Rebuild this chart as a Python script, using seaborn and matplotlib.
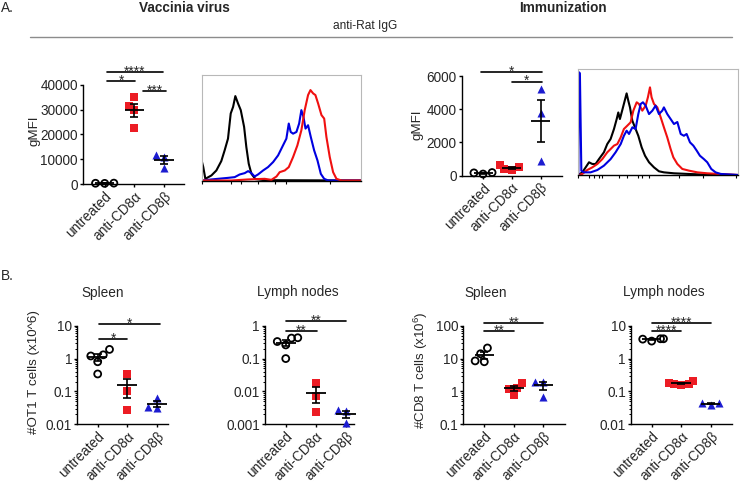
import numpy as np
import pandas as pd
import matplotlib
matplotlib.use("Agg")
import matplotlib.pyplot as plt
from matplotlib.lines import Line2D
from matplotlib.ticker import LogLocator, NullFormatter, FixedLocator
import seaborn as sns

sns.set_style("ticks")
plt.rcParams['font.family'] = ['Liberation Sans', 'DejaVu Sans']
plt.rcParams['mathtext.fontset'] = 'custom'
plt.rcParams['mathtext.rm'] = 'Liberation Sans'
plt.rcParams['mathtext.it'] = 'Liberation Sans:italic'

# ---------------- data ----------------
groups = ["untreated", "anti-CD8\u03b1", "anti-CD8\u03b2"]

# A. gMFI anti-Rat IgG
vv_untreated = [300, 250, 350]
vv_cd8a = [35200, 31700, 29800, 22800]
vv_cd8b = [11800, 11000, 6300]
im_untreated = [190, 100, 170]
im_cd8a = [500, 420, 620, 340]
im_cd8b = [5200, 3800, 900]

# B. cell numbers (x10^6)
ot1_spl_untreated = [1.9, 1.3, 1.2, 0.8, 0.34]
ot1_spl_cd8a = [0.33, 0.10, 0.027]
ot1_spl_cd8b = [0.062, 0.033, 0.032]
ot1_ln_untreated = [0.42, 0.43, 0.33, 0.26, 0.10]
ot1_ln_cd8a = [0.018, 0.0073, 0.0023]
ot1_ln_cd8b = [0.0027, 0.0025, 0.0011]
cd8_spl_untreated = [21, 14, 8, 8.5]
cd8_spl_cd8a = [1.85, 1.25, 1.2, 0.8]
cd8_spl_cd8b = [2.0, 1.9, 0.7]
cd8_ln_untreated = [4.0, 3.4, 4.0, 3.9]
cd8_ln_cd8a = [0.21, 0.18, 0.17, 0.16, 0.17]
cd8_ln_cd8b = [0.043, 0.040, 0.043]

# histograms (channel % of range, count % of axis height)
vv_black_x = [0, 0.8, 2.1, 5.9, 9, 12.1, 14.2, 16.3, 18, 19.5, 20.9, 22.6, 24.3, 26.4, 27.8, 29.3, 31, 33.5, 39.3, 100]
vv_black_y = [17.5, 12.7, 1.6, 4.8, 9.5, 18.4, 28.6, 39.7, 63.5, 69.8, 80, 73, 66.7, 50.8, 31.7, 15.9, 6.3, 1.3, 0.3, 0]
vv_blue_x = [0, 5.9, 10, 16.3, 20.5, 23.6, 26.8, 28.9, 31, 33, 35.1, 38.3, 41.4, 44.6, 47.7, 50.8, 52.9, 54.4, 55.6,
             57.1, 59.2, 60.9, 62.3, 63.6, 64.9, 66.5, 68.2, 70.3, 72.4, 74.5, 76.6, 79.1, 100]
vv_blue_y = [0, 1, 1.6, 2.5, 3.2, 5.7, 7, 8.9, 7, 3.8, 5.7, 9.5, 12.7, 17.5, 23.8, 33.3, 39.7, 54, 46,
             44.4, 46, 54, 66.7, 60.3, 49.2, 52.4, 41.3, 28.6, 19, 6.3, 1.6, 0, 0]
vv_red_x = [0, 18.4, 28.9, 39.3, 43.5, 46.7, 48.7, 51.9, 54.4, 57.1, 59.8, 62.3, 64.4, 66.5, 68, 69.7, 71.1, 72.8,
            74.9, 76.6, 78, 80.1, 82.2, 84.3, 87.4, 100]
vv_red_y = [0, 0, 1, 1.6, 0.6, 3.8, 7.9, 9.5, 12.7, 22.2, 33.3, 47.6, 66.7, 81, 85.7, 82.5, 81, 73,
            62, 58.7, 41.3, 22.2, 7.9, 1.6, 0, 0]

im_black_x = [0, 2.5, 4.6, 6.7, 8.75, 10.8, 12.9, 16, 18.1, 20.2, 22.3, 24, 25, 26, 27.5, 29, 30.2, 31.25, 32.3,
              33.75, 35.4, 37.5, 39.6, 41.7, 44.2, 47.3, 50.4, 53.5, 59.8, 70.2, 80.6, 100]
im_black_y = [0, 2.5, 7.2, 12, 10.4, 10.4, 15, 21.4, 29.2, 34, 43.4, 52.8, 59, 52.8, 61.3, 70, 77, 70, 63.8,
              51.3, 45, 37, 26.1, 18.2, 12, 7.2, 3.5, 2.5, 1.6, 0.9, 0.3, 0]
im_red_x = [0, 2.5, 5.6, 8.75, 11.9, 15, 18.1, 20.2, 22.3, 24.4, 26.5, 28.5, 30.6, 32.7, 34.4, 36.5, 37.9, 40,
            42.1, 43.5, 44.8, 45.8, 47.3, 49.4, 51.5, 53.5, 55.6, 57.7, 59.4, 61.9, 65, 69.2, 74.4, 80.6, 89, 100]
im_red_y = [0, 1, 4.7, 7.2, 10.4, 15, 21.4, 24.5, 27.7, 29.2, 35.5, 43.4, 46.5, 49.7, 60.7, 68.6, 67, 60.7,
            65.4, 73.3, 82.7, 73.3, 67, 63.8, 54.4, 45, 35.5, 24.5, 16.7, 10.4, 5.7, 4.1, 2.5, 1.6, 0.9, 0]
im_blue_x = [0, 0.4, 1.0, 1.9, 3.5, 7.7, 11.9, 16, 20.2, 23.3, 26.5, 28.5, 30.2, 31.7, 33.8, 35.8, 37.5, 39, 40.4,
             42.1, 44.2, 46.3, 48.3, 50.4, 52.5, 53.5, 55.6, 57.7, 59.8, 61.9, 64, 66, 67.7, 69.8, 71.9, 74, 76,
             78.5, 80.6, 83.1, 85.8, 89, 100]
im_blue_y = [0, 96.9, 96, 4, 2.5, 2.5, 4.7, 8.8, 15, 21.4, 29.2, 37, 41.8, 38.7, 45, 43.4, 57.5, 67, 68.6,
             65.4, 57.5, 60.7, 65.4, 57.5, 60.7, 63.8, 57.5, 52.8, 48.1, 50, 38.7, 37, 38.7, 30.8, 27.7, 23, 18.2,
             15, 12, 5.7, 2.5, 1, 0]

# ---------------- layout ----------------
W, H = 740, 483
fig = plt.figure(figsize=(W / 100, H / 100), dpi=100)
fig.patch.set_facecolor("white")

RED = "#ec1c24"
BLUE = "#1c1cd0"
FS = 9.8


def rect(l, t, r, b):
    return [l / W, 1 - b / H, (r - l) / W, (b - t) / H]


def ftext(x, y, s, **kw):
    fig.text(x / W, 1 - y / H, s, **kw)


styles = [
    dict(marker="o", facecolor="none", edgecolor="black", linewidth=1.3, size=5.0),
    dict(marker="s", color=RED, edgecolor=RED, linewidth=0, size=5.2),
    dict(marker="^", color=BLUE, edgecolor=BLUE, linewidth=0, size=5.8),
]


def dotplot(ax, series, ylim, xlim, log=False, yticks=None, yticklabels=None, comps=()):
    if log:
        ax.set_yscale("log")
    ax.set_ylim(*ylim)
    for i, (vals, st) in enumerate(zip(series, styles)):
        sns.swarmplot(x=[groups[i]] * len(vals), y=vals, order=groups, ax=ax,
                      clip_on=False, zorder=3, legend=False, **st)
    # drop empty scatter collections (they would be drawn at the figure origin when unclipped)
    for coll in list(ax.collections):
        if len(coll.get_offsets()) == 0:
            coll.remove()
    for i, vals in enumerate(series):
        v = np.asarray(vals, float)
        m = v.mean()
        se = v.std(ddof=1) / np.sqrt(len(v))
        ax.hlines(m, i - 0.33, i + 0.33, color="k", lw=1.3, zorder=5, clip_on=False)
        ax.errorbar(i, m, yerr=se, fmt="none", ecolor="k", elinewidth=1.2,
                    capsize=3, capthick=1.2, zorder=5, clip_on=False)
    for (i, j, y, lab) in comps:
        ax.plot([i, j], [y, y], color="k", lw=1.2, clip_on=False, zorder=5)
        ax.annotate(lab, xy=((i + j) / 2, y), xytext=(0, -2.6), textcoords="offset points",
                    ha="center", va="baseline", fontsize=FS, annotation_clip=False)
    ax.set_xlim(*xlim)
    ax.set_ylim(*ylim)
    if yticks is not None:
        ax.set_yticks(yticks)
        ax.set_yticklabels(yticklabels)
    if log:
        ax.yaxis.set_minor_locator(LogLocator(base=10, subs=np.arange(2, 10)))
        ax.yaxis.set_minor_formatter(NullFormatter())
        ax.tick_params(axis="y", which="minor", length=1.5, width=0.7, color="k")
    ax.set_xlabel("")
    ax.set_ylabel("")
    ax.set_xticks(range(3))
    ax.set_xticklabels(groups, rotation=45, ha="right", rotation_mode="anchor", fontsize=FS)
    ax.tick_params(axis="both", which="major", direction="out", length=2.5, width=1,
                   color="k", labelsize=FS, pad=1.2)
    for s in ("top", "right"):
        ax.spines[s].set_visible(False)
    for s in ("left", "bottom"):
        ax.spines[s].set_linewidth(1)
        ax.spines[s].set_color("k")
    ax.set_facecolor("none")


def histplot(ax, curves, minor_ticks):
    for xs, ys, c in curves:
        sns.lineplot(x=xs, y=ys, sort=False, estimator=None, color=c, lw=1.5, ax=ax)
    ax.set_xlim(0, 100)
    ax.set_ylim(0, 100)
    ax.set_yticks([])
    ax.xaxis.set_major_locator(FixedLocator(minor_ticks))
    ax.set_xticklabels([])
    ax.tick_params(axis="x", direction="out", length=2.5, width=0.8, color="k")
    for s in ("top", "left", "right"):
        ax.spines[s].set_color("#b8b8b8")
        ax.spines[s].set_linewidth(0.8)
    ax.spines["bottom"].set_color("k")
    ax.spines["bottom"].set_linewidth(1)
    ax.set_xlabel("")
    ax.set_ylabel("")


# ---- Header ----
ftext(1, 7.5, "A.", fontsize=FS, ha="left", va="center")
ftext(184, 7.5, "Vaccinia virus", fontsize=FS, fontweight="bold", ha="center", va="center")
ftext(563, 7.5, "Immunization", fontsize=FS, fontweight="bold", ha="center", va="center")
ftext(365, 26, "anti-Rat IgG", fontsize=8.6, ha="center", va="center")
fig.add_artist(Line2D([30 / W, 732 / W], [1 - 36.7 / H] * 2, color="#8c8c8c", lw=1))

# ---- A1 ----
ax = fig.add_axes(rect(83, 85, 184, 184))
dotplot(ax, [vv_untreated, vv_cd8a, vv_cd8b], (0, 40000), (-0.73, 2.67),
        yticks=[0, 10000, 20000, 30000, 40000],
        yticklabels=["0", "10000", "20000", "30000", "40000"],
        comps=[(0.07, 1.97, 45250, "****"), (0.07, 1.03, 41600, "*"), (1.3, 2.07, 37580, "***")])
ftext(34.7, 130.7, "gMFI", fontsize=9.6, rotation=90, ha="center", va="center")

# ---- A2 ----
ax = fig.add_axes(rect(202, 75, 361.5, 180.5))
histplot(ax, [(vv_black_x, vv_black_y, "black"), (vv_blue_x, vv_blue_y, "#0000e0"),
              (vv_red_x, vv_red_y, "#f01010")],
         [0, 18.4, 24.7, 35.1, 45.5, 52.9, 80.4])

# ---- A3 ----
ax = fig.add_axes(rect(462, 76, 562, 175.7))
dotplot(ax, [im_untreated, im_cd8a, im_cd8b], (0, 6000), (-0.73, 2.74),
        yticks=[0, 2000, 4000, 6000], yticklabels=["0", "2000", "4000", "6000"],
        comps=[(-0.07, 2.03, 6260, "*"), (1.0, 2.03, 5660, "*")])
ftext(417.7, 125, "gMFI", fontsize=9.6, rotation=90, ha="center", va="center")

# ---- A4 ----
ax = fig.add_axes(rect(578.3, 69, 738.3, 175))
histplot(ax, [(im_black_x, im_black_y, "black"), (im_red_x, im_red_y, "#f01010"),
              (im_blue_x, im_blue_y, "#0000e0")],
         [0, 6.7, 9.8, 13, 15, 25.5, 30.7, 37, 40, 44, 63, 77.7, 98.5])

# ---- B ----
ftext(1, 275.5, "B.", fontsize=FS, ha="left", va="center")

ax = fig.add_axes(rect(77.3, 325.7, 168, 424.3))
dotplot(ax, [ot1_spl_untreated, ot1_spl_cd8a, ot1_spl_cd8b], (0.01, 10), (-0.69, 2.38), log=True,
        yticks=[0.01, 0.1, 1, 10], yticklabels=["0.01", "0.1", "1", "10"],
        comps=[(0.04, 1.0, 4.0, "*"), (0.04, 2.1, 11.3, "*")])
ftext(103, 292.5, "Spleen", fontsize=FS, ha="center", va="center")
ftext(33.8, 371.7, "#OT1 T cells (x10^6)", fontsize=9.6, rotation=90, ha="center", va="center")

ax = fig.add_axes(rect(265, 325.7, 354, 424.3))
dotplot(ax, [ot1_ln_untreated, ot1_ln_cd8a, ot1_ln_cd8b], (0.001, 1), (-0.69, 2.27), log=True,
        yticks=[0.001, 0.01, 0.1, 1], yticklabels=["0.001", "0.01", "0.1", "1"],
        comps=[(0.0, 1.03, 0.70, "**"), (0.0, 2.0, 1.39, "**")])
ftext(297.5, 292, "Lymph nodes", fontsize=FS, ha="center", va="center")

ax = fig.add_axes(rect(463.3, 325.7, 565, 424.3))
dotplot(ax, [cd8_spl_untreated, cd8_spl_cd8a, cd8_spl_cd8b], (0.1, 100), (-0.71, 2.73), log=True,
        yticks=[0.1, 1, 10, 100], yticklabels=["0.1", "1", "10", "100"],
        comps=[(0.0, 1.0, 70, "**"), (0.0, 2.0, 118, "**")])
ftext(485.5, 292.5, "Spleen", fontsize=FS, ha="center", va="center")
ftext(420.7, 370, "#CD8 T cells (x10$^{\\mathregular{6}}$)", fontsize=9.6, rotation=90,
      ha="center", va="center")

ax = fig.add_axes(rect(631, 325.7, 731.7, 424.3))
dotplot(ax, [cd8_ln_untreated, cd8_ln_cd8a, cd8_ln_cd8b], (0.01, 10), (-0.7, 2.71), log=True,
        yticks=[0.01, 0.1, 1, 10], yticklabels=["0.01", "0.1", "1", "10"],
        comps=[(0.0, 1.0, 7.0, "****"), (0.0, 2.0, 11.8, "****")])
ftext(663.8, 292, "Lymph nodes", fontsize=FS, ha="center", va="center")

fig.savefig("out.png", dpi=100, facecolor="white")
